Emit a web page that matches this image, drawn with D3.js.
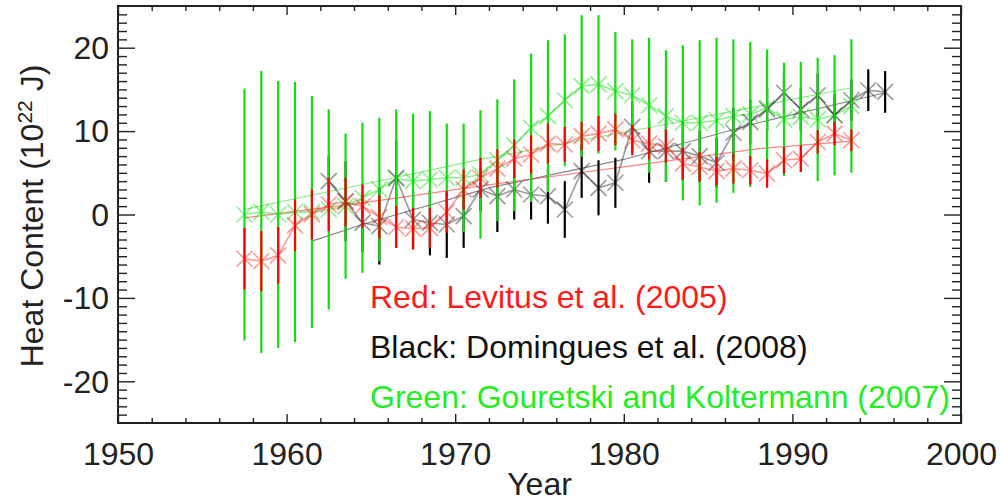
<!DOCTYPE html>
<html><head><meta charset="utf-8">
<script src="https://cdn.jsdelivr.net/npm/d3@7"></script>
<style>
body{margin:0;background:#fff}
svg{display:block}
text{font-family:"Liberation Sans",Arial,Helvetica,sans-serif}
</style>
</head><body>
<svg id="chart" width="1000" height="503"></svg>
<script>
// ---------------- data ----------------
const redYears = [1957.5,1958.5,1959.5,1960.5,1961.5,1962.5,1963.5,1964.5,1965.5,1966.5,1967.5,1968.5,1969.5,1970.5,1971.5,1972.5,1973.5,1974.5,1975.5,1976.5,1977.5,1978.5,1979.5,1980.5,1981.5,1982.5,1983.5,1984.5,1985.5,1986.5,1987.5,1988.5,1989.5,1990.5,1991.5,1992.5,1993.5];
const redValues = [-5.3,-5.6,-4.9,-1.3,0.0,1.2,1.5,1.0,-0.3,-1.5,-1.7,-1.6,0.3,3.0,4.4,5.5,6.7,7.2,8.5,8.4,9.4,9.7,10.2,8.9,8.5,8.2,6.1,5.7,5.2,5.5,5.3,4.9,6.5,6.7,8.7,9.7,8.9];
const redErrors = [3.7,3.6,3.4,3.1,3.0,3.2,2.9,2.6,2.6,2.5,2.5,2.4,2.5,2.4,2.4,2.3,2.3,2.3,2.4,2.1,1.7,2.1,1.9,1.8,1.9,2.0,1.9,1.8,1.7,1.8,1.7,1.7,1.6,1.6,1.4,1.4,1.3];

const blackYears = [1962.5,1963.5,1964.5,1965.5,1966.5,1967.5,1968.5,1969.5,1970.5,1971.5,1972.5,1973.5,1974.5,1975.5,1976.5,1977.5,1978.5,1979.5,1980.5,1981.5,1982.5,1983.5,1984.5,1985.5,1986.5,1987.5,1988.5,1989.5,1990.5,1991.5,1992.5,1993.5,1994.5,1995.5];
const blackValues = [4.0,1.6,-1.0,-1.4,4.4,-0.6,-1.0,-1.2,-0.2,3.0,2.2,3.0,2.4,2.2,0.6,5.2,3.2,3.8,10.5,7.6,7.6,7.6,7.0,6.2,9.8,11.1,12.6,14.6,12.6,14.3,11.9,13.7,14.9,14.7];
const blackErrors = [3.0,4.8,3.5,4.6,4.6,3.5,3.9,4.0,3.8,2.6,4.3,3.6,3.0,3.3,3.4,3.2,3.3,3.0,3.0,3.8,3.7,3.5,3.0,3.0,3.0,2.7,2.6,2.6,2.6,2.6,2.5,2.5,2.5,2.5];

const greenYears = [1957.5,1958.5,1959.5,1960.5,1961.5,1962.5,1963.5,1964.5,1965.5,1966.5,1967.5,1968.5,1969.5,1970.5,1971.5,1972.5,1973.5,1974.5,1975.5,1976.5,1977.5,1978.5,1979.5,1980.5,1981.5,1982.5,1983.5,1984.5,1985.5,1986.5,1987.5,1988.5,1989.5,1990.5,1991.5,1992.5,1993.5];
const greenValues = [0.0,0.3,0.0,0.3,0.3,0.6,1.0,2.0,3.0,4.3,4.0,4.2,4.4,4.4,4.8,6.5,8.3,10.4,11.8,13.7,15.4,15.6,14.8,14.3,13.1,11.8,11.0,11.0,11.3,11.8,12.0,12.8,11.4,11.7,11.4,11.9,13.0];
const greenErrors = [15.1,16.9,16.0,15.6,13.9,12.0,8.7,9.0,8.6,8.3,8.1,8.2,6.5,6.5,7.7,7.3,7.9,8.9,9.1,7.9,8.5,8.3,7.1,6.7,8.1,7.9,9.3,9.9,9.9,9.2,8.7,7.0,6.8,6.6,7.4,7.2,8.0];

// smoothed trend curves (year, value)
const redTrendYears = [1957.5,1964.5,1972.5,1980.0,1988.0,1993.5];
const redTrendValues = [-0.4,1.4,3.7,5.7,7.9,8.8];
const blackTrendYears = [1961.5,1964.5,1972.0,1980.0,1988.0,1995.5];
const blackTrendValues = [-3.2,-1.2,3.2,6.6,11.0,14.6];
const greenTrendYears = [1957.5,1964.5,1971.5,1983.0,1993.5];
const greenTrendValues = [0.6,3.6,6.6,11.0,15.2];

const xMajorTicks = [1950,1960,1970,1980,1990,2000];
const yMajorTicks = [-20,-10,0,10,20];

const legendLines = ["Red: Levitus et al. (2005)", "Black: Domingues et al. (2008)", "Green: Gouretski and Koltermann (2007)"];

// ---------------- layout ----------------
const svg = d3.select("#chart");
const L = 118, R = 961, T = 6, B = 423;
const x = d3.scaleLinear().domain([1950,2000]).range([L,R]);
const y = d3.scaleLinear().domain([-25,25]).range([B,T]);

const COL = {red:"#ff0000", black:"#000000", green:"#11dd11"};
const series = [
  {key:"green", years:greenYears, values:greenValues, errors:greenErrors, tY:greenTrendYears, tV:greenTrendValues, mColor:"#22dd22", mOp:0.5},
  {key:"black", years:blackYears, values:blackValues, errors:blackErrors, tY:blackTrendYears, tV:blackTrendValues, mColor:"#222222", mOp:0.45},
  {key:"red",   years:redYears,   values:redValues,   errors:redErrors,   tY:redTrendYears,   tV:redTrendValues,   mColor:"#ff2020", mOp:0.45}
];

const line = d3.line().x(d=>x(d[0])).y(d=>y(d[1]));

const plot = svg.append("g");
// trend lines
series.forEach(s=>{
  plot.append("path")
    .attr("d", line(s.tY.map((yr,i)=>[yr, s.tV[i]])))
    .attr("fill","none").attr("stroke", s.mColor).attr("stroke-opacity",0.55).attr("stroke-width",1.2);
});
// data lines and X markers
series.forEach(s=>{
  const pts = s.years.map((yr,i)=>[yr, s.values[i]]);
  plot.append("path").attr("d", line(pts))
    .attr("fill","none").attr("stroke", s.mColor).attr("stroke-opacity",s.mOp).attr("stroke-width",1.6);
  plot.selectAll(null).data(pts).enter().append("path")
    .attr("transform", d=>`translate(${x(d[0])},${y(d[1])})`)
    .attr("d","M-8,-8L8,8M-8,8L8,-8")
    .attr("fill","none").attr("stroke", s.mColor).attr("stroke-opacity",s.mOp).attr("stroke-width",1.6);
});
// error bars: black, green, red
["black","green","red"].forEach(k=>{
  const s = series.find(d=>d.key===k);
  plot.selectAll(null).data(s.years.map((yr,i)=>({yr, v:s.values[i], e:s.errors[i]}))).enter().append("line")
    .attr("x1", d=>x(d.yr)).attr("x2", d=>x(d.yr))
    .attr("y1", d=>y(d.v + d.e)).attr("y2", d=>y(d.v - d.e))
    .attr("stroke", COL[k]).attr("stroke-width", 2.2);
});

// ---------------- axes ----------------
const xMinor = d3.range(1952, 2000, 2).filter(v=>v%10!==0);
const yMinor = d3.range(-24, 25, 1).filter(v=>v%10!==0);
const fontSize = 32;
const plainFmt = d => String(d);

function styleAxis(g){ g.select(".domain").remove(); g.selectAll("line").attr("stroke","#222").attr("stroke-width",1.4); }

svg.append("g").attr("transform",`translate(0,${B})`)
  .call(d3.axisBottom(x).tickValues(xMajorTicks).tickSize(-9).tickPadding(19).tickFormat(plainFmt))
  .call(styleAxis)
  .call(g=>g.selectAll("text").attr("font-size",fontSize).attr("fill","#222").attr("font-family","Liberation Sans, Arial, sans-serif"));
svg.append("g").attr("transform",`translate(0,${B})`).call(d3.axisBottom(x).tickValues(xMinor).tickSize(-5).tickFormat("")).call(styleAxis);
svg.append("g").attr("transform",`translate(0,${T})`).call(d3.axisTop(x).tickValues(xMajorTicks).tickSize(-9).tickFormat("")).call(styleAxis);
svg.append("g").attr("transform",`translate(0,${T})`).call(d3.axisTop(x).tickValues(xMinor).tickSize(-5).tickFormat("")).call(styleAxis);

svg.append("g").attr("transform",`translate(${L},0)`)
  .call(d3.axisLeft(y).tickValues(yMajorTicks).tickSize(-17).tickPadding(9).tickFormat(plainFmt))
  .call(styleAxis)
  .call(g=>g.selectAll("text").attr("font-size",fontSize).attr("fill","#222").attr("dy","0.34em").attr("font-family","Liberation Sans, Arial, sans-serif"));
svg.append("g").attr("transform",`translate(${L},0)`).call(d3.axisLeft(y).tickValues(yMinor).tickSize(-9).tickFormat("")).call(styleAxis);
svg.append("g").attr("transform",`translate(${R},0)`).call(d3.axisRight(y).tickValues(yMajorTicks).tickSize(-17).tickFormat("")).call(styleAxis);
svg.append("g").attr("transform",`translate(${R},0)`).call(d3.axisRight(y).tickValues(yMinor).tickSize(-9).tickFormat("")).call(styleAxis);

// frame
svg.append("rect").attr("x",L).attr("y",T).attr("width",R-L).attr("height",B-T)
  .attr("fill","none").attr("stroke","#222").attr("stroke-width",2);

// axis titles
svg.append("text").attr("x",(L+R)/2).attr("y",495).attr("text-anchor","middle")
  .attr("font-size",fontSize).attr("fill","#222").text("Year");
const yt = svg.append("text").attr("transform","translate(43,216) rotate(-90)").attr("text-anchor","middle")
  .attr("font-size",fontSize).attr("fill","#222");
yt.append("tspan").text("Heat Content (10");
yt.append("tspan").attr("font-size",21).attr("dy",-11).text("22");
yt.append("tspan").attr("dy",11).text(" J)");

// legend text
const legColors = ["#ff1a1a","#111111","#22ee22"];
legendLines.forEach((t,i)=>{
  svg.append("text").attr("x",370).attr("y",308 + i*50).attr("font-size",fontSize)
    .attr("fill",legColors[i]).text(t);
});
</script>
</body></html>
